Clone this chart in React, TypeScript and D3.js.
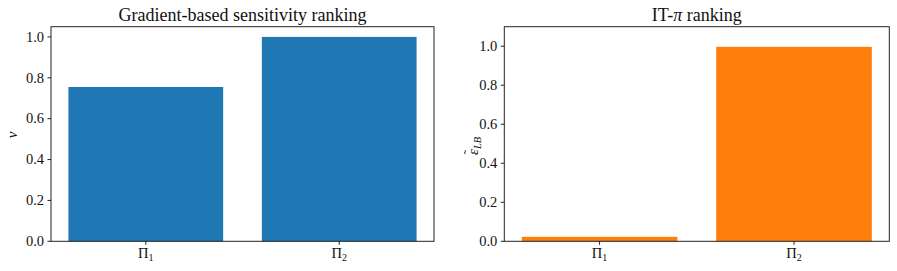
import React from 'react';
import * as d3 from 'd3';

// categories (subscripts of Π)
const categories = ['1', '2'];
const gradientValues = [0.755, 1.0];
const itpiValues = [0.023, 0.997];
const yTicks = [0, 0.2, 0.4, 0.6, 0.8, 1.0];

const FONT = '"Liberation Serif", "DejaVu Serif", serif';
const TOP = 26.7;
const BOTTOM = 241.3;

interface PanelProps {
  left: number;
  right: number;
  yMax: number;
  values: number[];
  color: string;
  title: React.ReactNode;
  yLabel: React.ReactNode;
}

function Panel({ left, right, yMax, values, color, title, yLabel }: PanelProps) {
  const x = d3.scaleLinear().domain([-0.49, 1.49]).range([left, right]);
  const y = d3.scaleLinear().domain([0, yMax]).range([BOTTOM, TOP]);
  const barW = 0.8;

  return (
    <g>
      <text x={(left + right) / 2} y={20.5} textAnchor="middle" fontSize={18} fontFamily={FONT} fill="#111">
        {title}
      </text>
      {values.map((v, i) => (
        <rect
          key={i}
          x={x(i - barW / 2)}
          y={y(v)}
          width={x(i + barW / 2) - x(i - barW / 2)}
          height={BOTTOM - y(v)}
          fill={color}
        />
      ))}
      {/* spines */}
      <rect x={left} y={TOP} width={right - left} height={BOTTOM - TOP} fill="none" stroke="#222" strokeWidth={1} />
      {yTicks.map(t => (
        <g key={t}>
          <line x1={left - 3.5} x2={left} y1={y(t)} y2={y(t)} stroke="#222" strokeWidth={1} />
          <text x={left - 7} y={y(t) + 4.8} textAnchor="end" fontSize={14.5} fontFamily={FONT} fill="#111">
            {d3.format('.1f')(t)}
          </text>
        </g>
      ))}
      {categories.map((c, i) => (
        <g key={c}>
          <line x1={x(i)} x2={x(i)} y1={BOTTOM} y2={BOTTOM + 3.5} stroke="#222" strokeWidth={1} />
          <text x={x(i)} y={BOTTOM + 16.5} textAnchor="middle" fontSize={14.5} fontFamily={FONT} fill="#111">
            Π<tspan fontSize={10} dy={3}>{c}</tspan>
          </text>
        </g>
      ))}
      {yLabel}
    </g>
  );
}

export default function App() {
  return (
    <svg width={897} height={271} style={{ position: 'absolute', left: 0, top: 0, background: '#fff' }}>
      <Panel
        left={51}
        right={434}
        yMax={1.05}
        values={gradientValues}
        color="#1f77b4"
        title="Gradient-based sensitivity ranking"
        yLabel={
          <text
            transform={`translate(17,135) rotate(-90)`}
            textAnchor="middle"
            fontSize={15}
            fontFamily={FONT}
            fontStyle="italic"
            fill="#111"
          >
            ν
          </text>
        }
      />
      <Panel
        left={504.3}
        right={889.3}
        yMax={1.1}
        values={itpiValues}
        color="#ff7f0e"
        title={
          <>
            IT-<tspan fontStyle="italic">π</tspan> ranking
          </>
        }
        yLabel={
          <g transform={`translate(478,141) rotate(-90)`} fontFamily={FONT} fontStyle="italic" fill="#111">
            <text x={-14} y={0} fontSize={15}>
              ε<tspan fontSize={10.5} dy={3}>LB</tspan>
            </text>
            <text x={-13.2} y={-5} fontSize={13} fontStyle="normal">
              ˜
            </text>
          </g>
        }
      />
    </svg>
  );
}
